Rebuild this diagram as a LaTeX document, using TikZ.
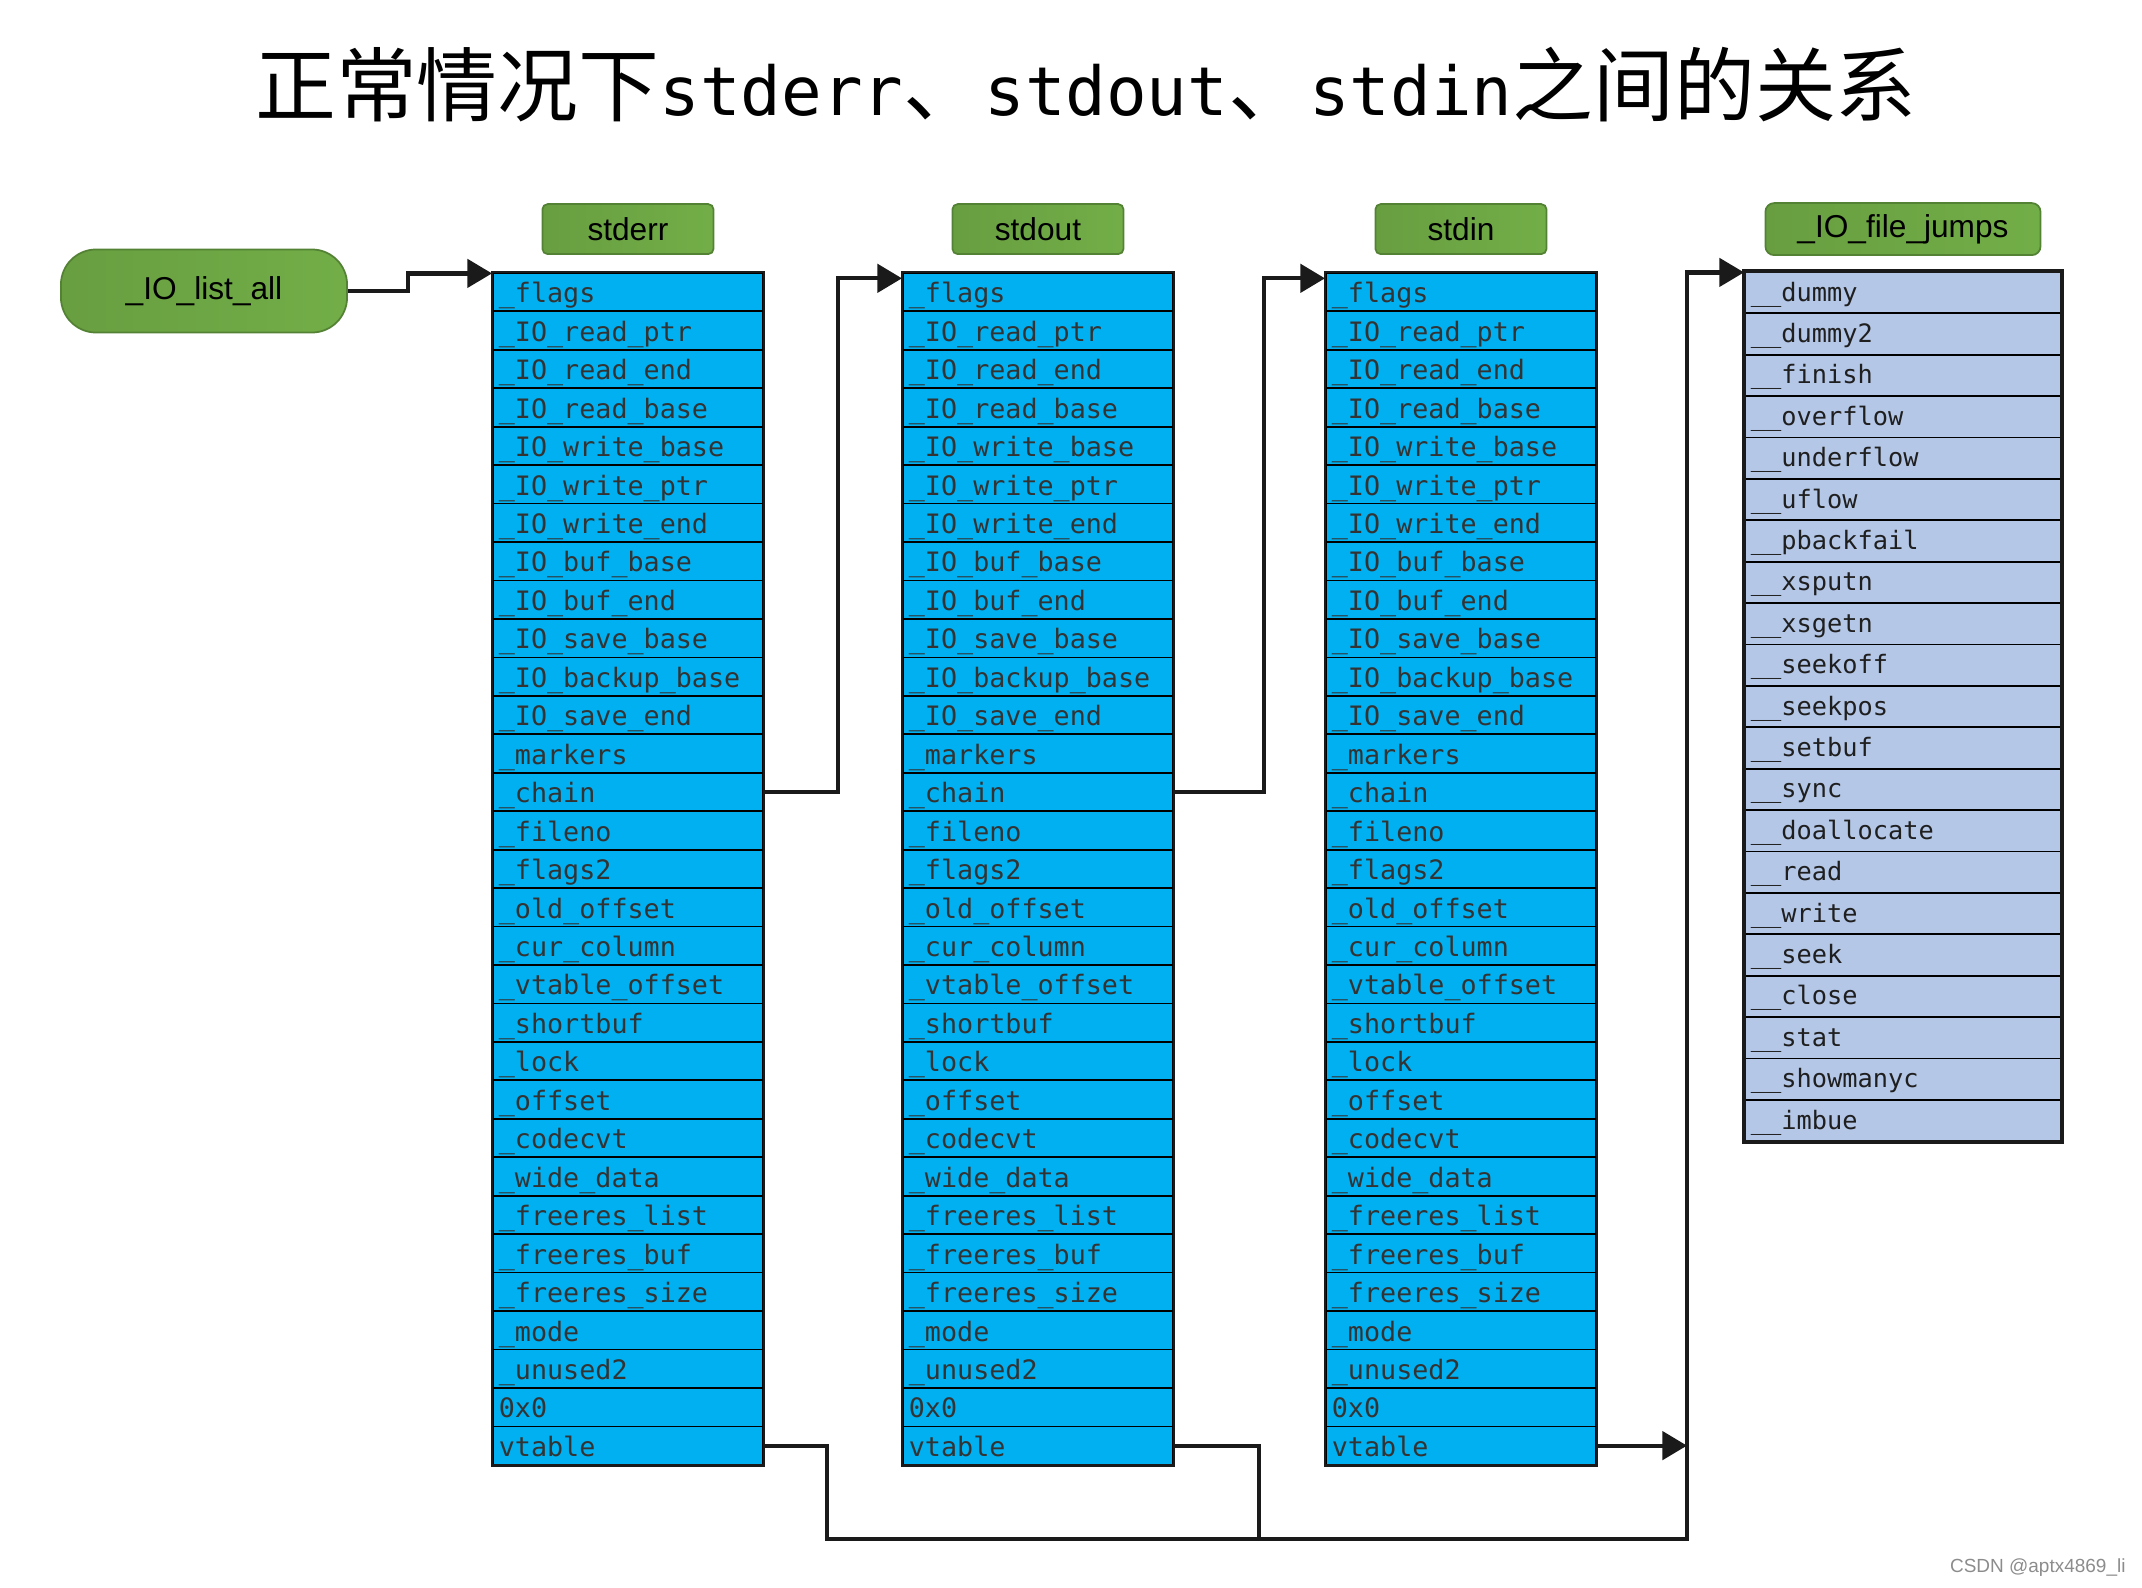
\documentclass[tikz,border=0pt]{standalone}
\usepackage{fontspec}
\usepackage{xcolor}
\setmainfont{Liberation Sans}
\newfontfamily\cjkfont{Noto Sans CJK SC}
\newfontfamily\codefont{DejaVu Sans Mono}
\usetikzlibrary{arrows.meta, positioning, fit, calc}
\definecolor{fieldBlue}{RGB}{0,176,240}
\definecolor{jumpBlue}{RGB}{180,199,231}
\definecolor{tagGreenL}{RGB}{104,158,64}
\definecolor{tagGreenM}{RGB}{94,145,55}
\definecolor{tagGreenR}{RGB}{114,174,72}
\definecolor{tagEdge}{RGB}{84,130,53}
\definecolor{fieldInk}{RGB}{51,51,51}
\definecolor{lineInk}{RGB}{26,26,26}

% fields of struct _IO_FILE, in order
\def\filefields{\_flags,\_IO\_read\_ptr,\_IO\_read\_end,\_IO\_read\_base,%
\_IO\_write\_base,\_IO\_write\_ptr,\_IO\_write\_end,\_IO\_buf\_base,%
\_IO\_buf\_end,\_IO\_save\_base,\_IO\_backup\_base,\_IO\_save\_end,%
\_markers,\_chain,\_fileno,\_flags2,\_old\_offset,\_cur\_column,%
\_vtable\_offset,\_shortbuf,\_lock,\_offset,\_codecvt,\_wide\_data,%
\_freeres\_list,\_freeres\_buf,\_freeres\_size,\_mode,\_unused2,0x0,vtable}
% entries of the jump table
\def\jumpfields{\_\_dummy,\_\_dummy2,\_\_finish,\_\_overflow,\_\_underflow,%
\_\_uflow,\_\_pbackfail,\_\_xsputn,\_\_xsgetn,\_\_seekoff,\_\_seekpos,%
\_\_setbuf,\_\_sync,\_\_doallocate,\_\_read,\_\_write,\_\_seek,\_\_close,%
\_\_stat,\_\_showmanyc,\_\_imbue}

\begin{document}
\begin{tikzpicture}[x=0.01cm, y=-0.01cm,
    field/.style={draw=black, line width=0.5pt, fill=fieldBlue, anchor=north west,
      text width=2.58cm, inner xsep=0.06cm, inner ysep=0pt, minimum height=0.3845cm,
      align=left, text height=6.1pt, text depth=0pt, text=fieldInk,
      font=\codefont\fontsize{7.6}{8}\selectfont},
    jump/.style={field, fill=jumpBlue, text width=3.04cm, minimum height=0.414cm,
      text height=4.8pt, text=black!88, font=\codefont\fontsize{7.2}{8}\selectfont},
    frame/.style={draw=lineInk, line width=0.8pt, inner sep=0pt},
    tag/.style={draw=tagEdge, line width=0.5pt, left color=tagGreenL, middle color=tagGreenM,
      right color=tagGreenR, rounded corners=1.5pt, inner sep=0pt, text=black,
      font=\fontsize{9}{10}\selectfont},
    link/.style={line width=1.2pt, draw=lineInk, -{Triangle[length=7pt,width=8pt]}},
    wire/.style={line width=1.2pt, draw=lineInk}
  ]
  \useasboundingbox (0,0) rectangle (2142,1588);

  \node[font=\cjkfont\fontsize{23}{27}\selectfont] (title) at (1086,85)
    {正常情况下{\codefont\fontsize{19.2}{23}\selectfont stderr}、{\codefont\fontsize{19.2}{23}\selectfont stdout}、{\codefont\fontsize{19.2}{23}\selectfont stdin}之间的关系};

  \foreach \tab/\x in {err/492,out/902,in/1325}{
    \foreach \fld [count=\i] in \filefields
      \node[field] (\tab\i) at (\x,{272+(\i-1)*38.45}) {\fld};
    \node[frame, fit=(\tab1)(\tab31)] (\tab frame) {};
  }
  \foreach \fld [count=\i] in \jumpfields
    \node[jump] (jmp\i) at (1744,{271+(\i-1)*41.4}) {\fld};
  \node[frame, line width=1.1pt, fit=(jmp1)(jmp21)] (jmpframe) {};

  \node[tag, minimum width=1.71cm, minimum height=0.5cm, above=0.17cm of err1] (errtag) {stderr};
  \node[tag, minimum width=1.71cm, minimum height=0.5cm, above=0.17cm of out1] (outtag) {stdout};
  \node[tag, minimum width=1.71cm, minimum height=0.5cm, above=0.17cm of in1] (intag) {stdin};
  \node[tag, rounded corners=2.5pt, minimum width=2.75cm, minimum height=0.52cm, above=0.15cm of jmp1] (jmptag) {\_IO\_file\_jumps};
  \node[tag, rounded corners=10pt, minimum width=2.86cm, minimum height=0.83cm] (listall) at (204,291) {\_IO\_list\_all};

  \draw[link] (listall.east) -- ++(60,0) |- ([yshift=-0.4pt]err1.north west);
  \draw[link] (err14.east) -- ++(74,0) |- ([yshift=-1.8pt]out1.north west);
  \draw[link] (out14.east) -- ++(90,0) |- ([yshift=-1.8pt]in1.north west);

  \coordinate (bus) at (1687,1539);
  \draw[link] (err31.east) -- ++(63,0) |- (bus) |- ([yshift=-0.4pt]jmp1.north west);
  \draw[wire] (out31.east) -- ++(85,0) |- (bus);
  \draw[link] (in31.east) -- (in31.east -| bus);

  \node[anchor=east, text=black!45, font=\fontsize{5.4}{6}\selectfont] (credit) at (2138,1568) {CSDN @aptx4869\_li};
\end{tikzpicture}
\end{document}
